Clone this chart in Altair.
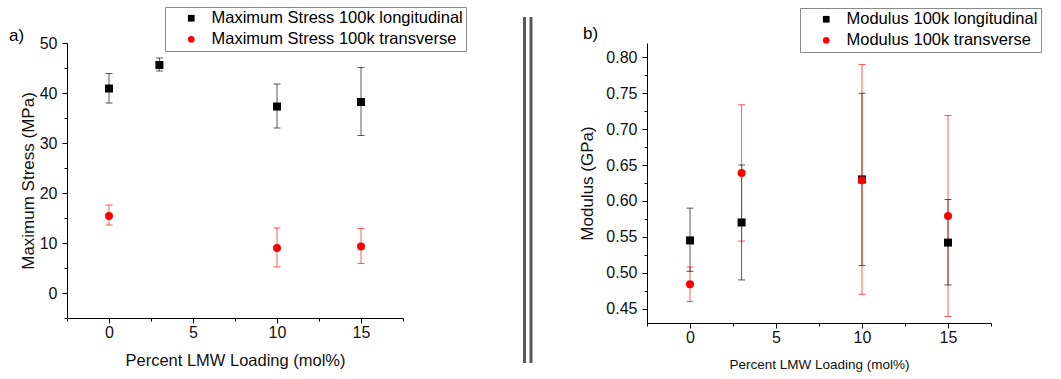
import altair as alt
import pandas as pd

# ---- data ----
stress_long_label = "Maximum Stress 100k longitudinal"
stress_trans_label = "Maximum Stress 100k transverse"
mod_long_label = "Modulus 100k longitudinal"
mod_trans_label = "Modulus 100k transverse"

x_stress_long = [0, 3, 10, 15]
stress_long = [40.9, 45.6, 37.3, 38.2]
stress_long_lo = [38.0, 44.4, 33.0, 31.5]
stress_long_hi = [43.9, 47.0, 41.8, 45.1]

x_stress_trans = [0, 10, 15]
stress_trans = [15.4, 9.0, 9.3]
stress_trans_lo = [13.6, 5.2, 5.9]
stress_trans_hi = [17.6, 13.0, 12.9]

x_mod = [0, 3, 10, 15]
mod_long = [0.545, 0.570, 0.630, 0.542]
mod_long_lo = [0.502, 0.490, 0.510, 0.483]
mod_long_hi = [0.590, 0.650, 0.750, 0.602]
mod_trans = [0.484, 0.639, 0.629, 0.579]
mod_trans_lo = [0.460, 0.544, 0.470, 0.439]
mod_trans_hi = [0.508, 0.734, 0.790, 0.719]

x_ticks = [-2.5, 0, 2.5, 5, 7.5, 10, 12.5, 15, 17.5]
stress_ticks = [-5, 0, 5, 10, 15, 20, 25, 30, 35, 40, 45, 50]
mod_ticks = [0.45, 0.475, 0.5, 0.525, 0.55, 0.575, 0.6, 0.625, 0.65,
             0.675, 0.7, 0.725, 0.75, 0.775, 0.8]

FONT = "Liberation Sans"


def frame(xs, ys, lo, hi, label):
    return pd.DataFrame({"x": xs, "y": ys, "lo": lo, "hi": hi, "series": label})


stress_df = pd.concat([
    frame(x_stress_long, stress_long, stress_long_lo, stress_long_hi, stress_long_label),
    frame(x_stress_trans, stress_trans, stress_trans_lo, stress_trans_hi, stress_trans_label),
])
mod_df = pd.concat([
    frame(x_mod, mod_long, mod_long_lo, mod_long_hi, mod_long_label),
    frame(x_mod, mod_trans, mod_trans_lo, mod_trans_hi, mod_trans_label),
])


def panel(df, labels, ydomain, yticks, ytitle, ytitle_pad, xtitle, xtitle_size, ylabel_test,
          ylabel_fmt, w, h, legend_x, legend_y, tag, tag_x, tag_y, extra=None):
    xscale = alt.Scale(domain=[-2.5, 17.5], nice=False, zero=False)
    yscale = alt.Scale(domain=ydomain, nice=False, zero=False)
    xaxis = alt.Axis(values=x_ticks, title=xtitle, titleFontSize=xtitle_size,
                     labelExpr="datum.value % 5 === 0 ? format(datum.value, 'd') : ''",
                     tickSize={"condition": {"test": "datum.value % 5 !== 0", "value": 3}, "value": 5},
                     labelPadding=1, titlePadding=12, grid=False, labelOverlap=False,
                     labelBound=False)
    yaxis = alt.Axis(values=yticks, title=ytitle, titleFontSize=17,
                     labelExpr=f"({ylabel_test}) ? format(datum.value, '{ylabel_fmt}') : ''",
                     tickSize={"condition": {"test": f"!({ylabel_test})", "value": 3}, "value": 5},
                     labelPadding=5, titlePadding=ytitle_pad, grid=False, labelOverlap=False,
                     labelBound=False)
    legend = alt.Legend(title=None, orient="none", legendX=legend_x, legendY=legend_y,
                        strokeColor="#8a8a8a", fillColor="white", padding=3,
                        symbolOffset=15, labelOffset=12, rowPadding=4,
                        labelFontSize=16.5, labelFont=FONT, labelColor="black",
                        symbolSize=45, symbolStrokeWidth=0, symbolOpacity=1,
                        labelLimit=400)
    color = alt.Color("series:N", scale=alt.Scale(domain=labels, range=["black", "red"]),
                      legend=legend, sort=labels)
    shape = alt.Shape("series:N", scale=alt.Scale(domain=labels, range=["square", "circle"]),
                      legend=legend, sort=labels)

    base = alt.Chart(df)
    rules = base.mark_rule(strokeWidth=1, opacity=0.65).encode(
        x=alt.X("x:Q", scale=xscale, axis=xaxis),
        y=alt.Y("lo:Q", scale=yscale, axis=yaxis),
        y2="hi:Q",
        color=color,
    )
    caps_lo = base.mark_tick(orient="horizontal", size=7, thickness=1, opacity=0.65).encode(
        x=alt.X("x:Q", axis=xaxis), y=alt.Y("lo:Q", axis=yaxis), color=color)
    caps_hi = base.mark_tick(orient="horizontal", size=7, thickness=1, opacity=0.65).encode(
        x=alt.X("x:Q", axis=xaxis), y=alt.Y("hi:Q", axis=yaxis), color=color)
    points = base.mark_point(filled=True, opacity=1, size=64).encode(
        x=alt.X("x:Q", axis=xaxis), y=alt.Y("y:Q", axis=yaxis), color=color, shape=shape,
        order=alt.Order("series:N", sort="ascending"))
    tag_layer = alt.Chart(pd.DataFrame({"t": [tag]})).mark_text(
        align="left", baseline="middle", fontSize=17, font=FONT, color="black"
    ).encode(x=alt.value(tag_x), y=alt.value(tag_y), text="t:N")
    layers = [rules, caps_lo, caps_hi, points, tag_layer]
    if extra is not None:
        layers += extra
    return alt.layer(*layers).properties(width=w, height=h)


divider_df = pd.DataFrame({"d": [0]})
divider = [
    alt.Chart(divider_df).mark_rule(color="#5a5a5a", strokeWidth=3).encode(
        x=alt.value(457.5), y=alt.value(-26), y2=alt.value(320)),
    alt.Chart(divider_df).mark_rule(color="#5a5a5a", strokeWidth=3).encode(
        x=alt.value(464), y=alt.value(-26), y2=alt.value(320)),
]

left = panel(stress_df, [stress_long_label, stress_trans_label], [-5, 50], stress_ticks,
             "Maximum Stress (MPa)", 2, "Percent LMW Loading (mol%)", 16.5,
             "datum.value % 10 === 0", "d", 336, 275, 98, -36, "a)", -58, -7, extra=divider)
right = panel(mod_df, [mod_long_label, mod_trans_label], [0.43, 0.82], mod_ticks,
              "Modulus (GPa)", 9, "Percent LMW Loading (mol%)", 13.5,
              "abs(datum.value * 20 - round(datum.value * 20)) < 0.001", ".2f",
              344, 280, 153, -35, "b)", -64, -9)

chart = alt.hconcat(left, right, spacing=244, bounds="flush").resolve_scale(
    color="independent", shape="independent"
).properties(
    padding={"left": 9, "top": 6, "right": 5, "bottom": 5},
    background="white",
).configure_view(stroke=None).configure_axis(
    domainColor="black", tickColor="black", labelColor="#111111", titleColor="#111111",
    labelFont=FONT, titleFont=FONT, labelFontSize=16, titleFontWeight="normal",
    domainWidth=1, tickWidth=1, labelOverlap=False,
)

chart.save("out.html", embed_options={"renderer": "svg", "actions": False})
